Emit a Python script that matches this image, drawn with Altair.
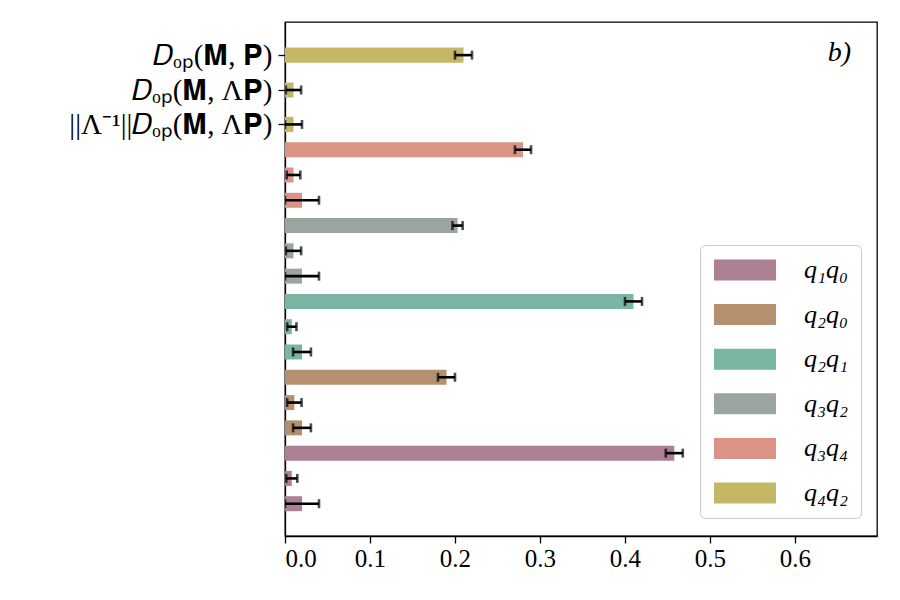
import altair as alt
import pandas as pd

# ---- data ----
pairs = ["q₁q₀", "q₂q₀", "q₂q₁", "q₃q₂", "q₃q₄", "q₄q₂"]
pair_colors = ["#AD7F93", "#B5906E", "#7AB5A3", "#9BA59F", "#DA9384", "#C4B866"]
metrics = ["||Λ⁻¹||𝐷ₒₚ(𝐌, Λ𝐏)", "𝐷ₒₚ(𝐌, Λ𝐏)", "𝐷ₒₚ(𝐌, 𝐏)"]

d_mp = [0.458, 0.19, 0.41, 0.203, 0.28, 0.21]
d_mp_err = [0.010, 0.010, 0.010, 0.006, 0.0095, 0.010]
d_mlp = [0.008, 0.011, 0.008, 0.010, 0.010, 0.010]
d_mlp_err = [0.0065, 0.0085, 0.0055, 0.009, 0.008, 0.009]
d_norm = [0.020, 0.020, 0.020, 0.020, 0.020, 0.010]
d_norm_err = [0.020, 0.0105, 0.0105, 0.020, 0.020, 0.010]

series = [(d_norm, d_norm_err), (d_mlp, d_mlp_err), (d_mp, d_mp_err)]

# slot layout (3 bars per pair; the top pair is spread a bit wider)
regular_offsets = [0, 1, 2]
top_offsets = [0, 1.36, 2.74]

rows = []
for g, p in enumerate(pairs):
    offs = top_offsets if g == len(pairs) - 1 else regular_offsets
    for j, (vals, errs) in enumerate(series):
        rows.append(dict(pair=p, metric=metrics[j], value=vals[g], err=errs[g],
                         slot=3 * g + offs[j]))
df = pd.DataFrame(rows)

top_slots = [3 * (len(pairs) - 1) + o for o in top_offsets]
label_expr = (
    f"datum.value > {top_slots[2] - 0.1} ? '{metrics[2]}' : "
    f"datum.value > {top_slots[1] - 0.1} ? '{metrics[1]}' : '{metrics[0]}'"
)

FONT = "Liberation Serif"
half = 0.2967

xscale = alt.Scale(domain=[0, 0.6965], nice=False, zero=False)
yscale = alt.Scale(domain=[-1.277, 19.05], nice=False, zero=False)

base = alt.Chart(df).transform_calculate(
    zero="0",
    y0=f"datum.slot - {half}",
    y1=f"datum.slot + {half}",
    lo="datum.value - datum.err",
    hi="datum.value + datum.err",
)

bars = base.mark_bar(opacity=1, strokeWidth=0).encode(
    x=alt.X("zero:Q", scale=xscale,
            axis=alt.Axis(values=[0, 0.1, 0.2, 0.3, 0.4, 0.5, 0.6], format=".1f",
                          title=None, grid=False)),
    x2="value:Q",
    y=alt.Y("y0:Q", scale=yscale,
            axis=alt.Axis(values=top_slots, labelExpr=label_expr, title=None, grid=False,
                          labelFontSize=29, labelLimit=400)),
    y2="y1:Q",
    color=alt.Color("pair:N",
                    scale=alt.Scale(domain=pairs, range=pair_colors),
                    legend=alt.Legend(
                        orient="none", legendX=415, legendY=223, title=None,
                        symbolType="M-1,-0.955H4.636V0.955H-1Z", symbolSize=484,
                        symbolStrokeWidth=0, symbolOpacity=1,
                        labelFont=FONT, labelFontSize=26, labelFontStyle="italic",
                        labelColor="black", labelOffset=66, rowPadding=18.6,
                        padding=12, strokeColor="#cccccc", cornerRadius=5,
                        fillColor="white")),
)

err_line = base.mark_rule(color="black", strokeWidth=2.6, clip=True).encode(
    x=alt.X("lo:Q", scale=xscale), x2="hi:Q",
    y=alt.Y("slot:Q", scale=yscale),
)
cap_lo = base.mark_tick(color="black", orient="vertical", size=9, thickness=2.6, clip=True).encode(
    x=alt.X("lo:Q", scale=xscale), y=alt.Y("slot:Q", scale=yscale),
)
cap_hi = base.mark_tick(color="black", orient="vertical", size=9, thickness=2.6, clip=True).encode(
    x=alt.X("hi:Q", scale=xscale), y=alt.Y("slot:Q", scale=yscale),
)

panel_label = alt.Chart(pd.DataFrame({"t": ["b)"]})).mark_text(
    font=FONT, fontSize=28, fontStyle="italic", align="right", baseline="middle", color="black"
).encode(x=alt.value(566), y=alt.value(31), text="t:N")

chart = alt.layer(bars, err_line, cap_lo, cap_hi, panel_label).properties(
    width=592, height=514,
    autosize=alt.AutoSizeParams(type="none"),
    padding={"left": 285, "top": 22, "right": 23, "bottom": 64},
    background="white",
).configure_view(
    stroke="black", strokeWidth=1.3
).configure_axis(
    labelFont=FONT, labelFontSize=25, labelColor="black",
    tickColor="black", tickSize=7, tickWidth=1.3,
    domainColor="black", domainWidth=1.3,
).configure_axisY(labelPadding=6).configure_axisX(labelPadding=3)

chart.save("out.html", embed_options={"renderer": "svg", "actions": False})
